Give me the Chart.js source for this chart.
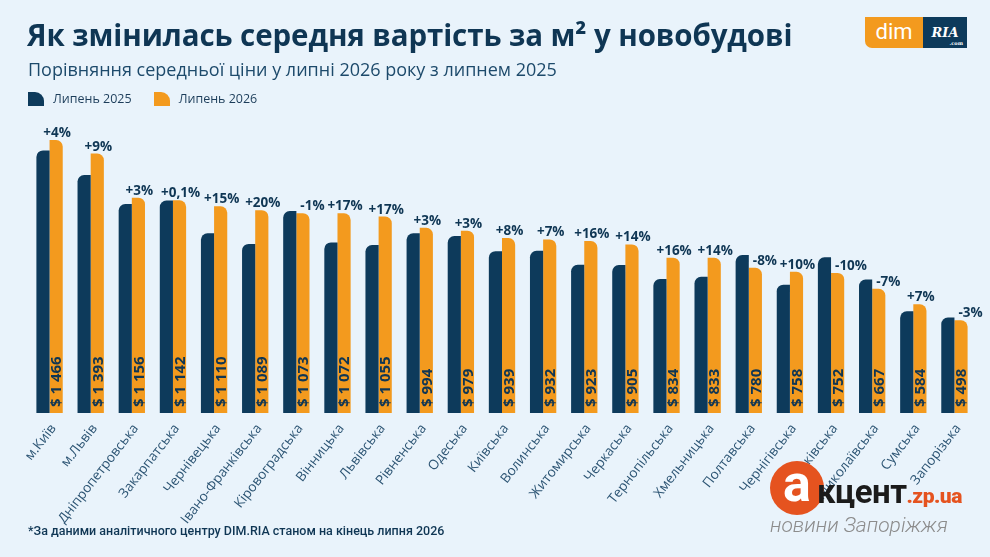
<!DOCTYPE html>
<html lang="uk">
<head>
    <meta charset="UTF-8">
    <title>Вартість м² у новобудові</title>
    <script src="https://cdn.jsdelivr.net/npm/chart.js"></script>
    <style>
        body {
            margin: 0;
            width: 990px;
            height: 557px;
            overflow: hidden;
            background: #e9f3fb;
            font-family: 'Roboto', sans-serif;
            position: relative;
        }
        #chart {
            position: absolute;
            left: 0;
            top: 0;
        }
        .title {
            position: absolute;
            left: 27px;
            top: 14px;
            font-family: 'Open Sans', sans-serif;
            font-size: 29.5px;
            font-weight: 700;
            color: #0f3654;
            letter-spacing: -0.1px;
        }
        .subtitle {
            position: absolute;
            left: 28px;
            top: 57px;
            font-family: 'Open Sans', sans-serif;
            font-size: 18px;
            color: #1d4a6b;
        }
        .legend {
            position: absolute;
            left: 28px;
            top: 90px;
            font-family: 'Open Sans', sans-serif;
            font-size: 12.5px;
            color: #1c3d5a;
            display: flex;
            align-items: center;
        }
        .legend .box {
            width: 16px;
            height: 14px;
            border-top-right-radius: 9px;
            margin-right: 9px;
        }
        .legend span { margin-right: 22px; }
        .logo {
            position: absolute;
            left: 865px;
            top: 17px;
            height: 31px;
            display: flex;
        }
        .logo .dim {
            width: 58px;
            background: #f39a1e;
            color: #fff;
            font-size: 22px;
            text-align: center;
            line-height: 29px;
            border-bottom-left-radius: 7px;
        }
        .logo .ria {
            width: 44px;
            background: #0d3a5b;
            color: #fff;
            font-family: 'DejaVu Serif', serif;
            font-weight: 700;
            font-style: italic;
            font-size: 13px;
            text-align: center;
            line-height: 31px;
            position: relative;
        }
        .logo .ria small {
            position: absolute;
            right: 4px;
            bottom: -11px;
            font-size: 5px;
            font-style: normal;
        }
        .footnote {
            position: absolute;
            left: 28px;
            top: 523px;
            font-size: 12.5px;
            font-weight: 500;
            color: #0f3654;
        }
        .akcent {
            position: absolute;
            left: 770px;
            top: 461px;
            width: 210px;
            height: 80px;
        }
        .akcent .circle {
            position: absolute;
            left: 0;
            top: 0;
            width: 54px;
            height: 54px;
            border-radius: 50%;
            background: #e5531f;
            color: #fff;
            font-size: 52px;
            font-weight: 700;
            line-height: 46px;
            text-align: center;
        }
        .akcent .word {
            position: absolute;
            left: 47px;
            top: 11px;
            font-size: 33px;
            font-weight: 700;
            color: #1b1b1b;
            letter-spacing: -0.5px;
        }
        .akcent .word b {
            color: #e5531f;
            font-size: 21px;
        }
        .akcent .tag {
            position: absolute;
            left: 0;
            top: 52px;
            font-size: 21px;
            font-style: italic;
            font-weight: 300;
            color: #8c8c8c;
        }
    </style>
</head>
<body>
    <canvas id="chart" width="990" height="557"></canvas>

    <div class="title">Як змінилась середня вартість за м² у новобудові</div>
    <div class="subtitle">Порівняння середньої ціни у липні 2026 року з липнем 2025</div>
    <div class="legend">
        <div class="box" style="background:#0d3a5b"></div><span>Липень 2025</span>
        <div class="box" style="background:#f39a1e"></div><span>Липень 2026</span>
    </div>
    <div class="logo">
        <div class="dim">dim</div>
        <div class="ria">RIA<small>.com</small></div>
    </div>
    <div class="footnote">*За даними аналітичного центру DIM.RIA станом на кінець липня 2026</div>
    <div class="akcent">
        <div class="circle">а</div>
        <div class="word">кцент<b>.zp.ua</b></div>
        <div class="tag">новини Запоріжжя</div>
    </div>

    <script>
        const regions = ['м.Київ', 'м.Львів', 'Дніпропетровська', 'Закарпатська', 'Чернівецька',
            'Івано-Франківська', 'Кіровоградська', 'Вінницька', 'Львівська', 'Рівненська',
            'Одеська', 'Київська', 'Волинська', 'Житомирська', 'Черкаська', 'Тернопільська',
            'Хмельницька', 'Полтавська', 'Чернігівська', 'Харківська', 'Миколаївська',
            'Сумська', 'Запорізька'];

        const price2025 = [1410, 1278, 1122, 1141, 965, 908, 1084, 916, 902, 965,
            950, 869, 871, 796, 794, 719, 731, 848, 689, 836, 717, 546, 513];

        // July 2026, printed inside the orange bars
        const price2026 = [1466, 1393, 1156, 1142, 1110, 1089, 1073, 1072, 1055, 994,
            979, 939, 932, 923, 905, 834, 833, 780, 758, 752, 667, 584, 498];

        const changes = ['+4%', '+9%', '+3%', '+0,1%', '+15%', '+20%', '-1%', '+17%', '+17%', '+3%',
            '+3%', '+8%', '+7%', '+16%', '+14%', '+16%', '+14%', '-8%', '+10%', '-10%',
            '-7%', '+7%', '-3%'];

        const navy = '#0d3a5b';
        const orange = '#f39a1e';
        const textNavy = '#0f3654';

        function money(v) {
            const s = String(v);
            return '$ ' + (s.length > 3 ? s.slice(0, s.length - 3) + ' ' + s.slice(-3) : s);
        }

        // value inside the orange bar + change label above it
        const barLabels = {
            id: 'barLabels',
            afterDatasetsDraw(chart) {
                const ctx = chart.ctx;
                const bars = chart.getDatasetMeta(1).data;
                ctx.save();
                bars.forEach((bar, i) => {
                    // rotated price
                    ctx.save();
                    ctx.translate(bar.x, bar.base - 6);
                    ctx.rotate(-Math.PI / 2);
                    ctx.font = '700 15px "Open Sans", sans-serif';
                    ctx.fillStyle = textNavy;
                    ctx.textAlign = 'left';
                    ctx.textBaseline = 'middle';
                    ctx.fillText(money(price2026[i]), 0, 1);
                    ctx.restore();

                    // change
                    ctx.font = '700 13.5px "Open Sans", sans-serif';
                    ctx.fillStyle = textNavy;
                    ctx.textBaseline = 'alphabetic';
                    const neg = changes[i].charAt(0) === '-';
                    if (neg) {
                        ctx.textAlign = 'left';
                        ctx.fillText(changes[i], bar.x - bar.width / 2 + 4, bar.y - 3);
                    } else {
                        ctx.textAlign = 'center';
                        ctx.fillText(changes[i], bar.x + 1, bar.y - 3);
                    }
                });
                ctx.restore();
            }
        };

        new Chart(document.getElementById('chart'), {
            type: 'bar',
            data: {
                labels: regions,
                datasets: [{
                    label: 'Липень 2025',
                    data: price2025,
                    backgroundColor: navy,
                    borderRadius: { topLeft: 11, topRight: 0 },
                    borderSkipped: 'start'
                }, {
                    label: 'Липень 2026',
                    data: price2026,
                    backgroundColor: orange,
                    borderRadius: { topLeft: 0, topRight: 11 },
                    borderSkipped: 'start'
                }]
            },
            options: {
                responsive: false,
                animation: false,
                events: [],
                layout: {
                    padding: { left: 29, right: 15, top: 115, bottom: 0 }
                },
                datasets: {
                    bar: { categoryPercentage: 0.64, barPercentage: 1.0 }
                },
                plugins: {
                    legend: { display: false },
                    tooltip: { enabled: false }
                },
                scales: {
                    x: {
                        grid: { display: false },
                        border: { display: false },
                        ticks: {
                            autoSkip: false,
                            minRotation: 52,
                            maxRotation: 52,
                            padding: 0,
                            labelOffset: 4,
                            color: '#2d5574',
                            font: { family: '"Open Sans", sans-serif', size: 13.5 }
                        },
                        afterFit(scale) { scale.height = 144; }
                    },
                    y: {
                        display: false,
                        min: 0,
                        max: 1600
                    }
                }
            },
            plugins: [barLabels]
        });
    </script>
</body>
</html>
